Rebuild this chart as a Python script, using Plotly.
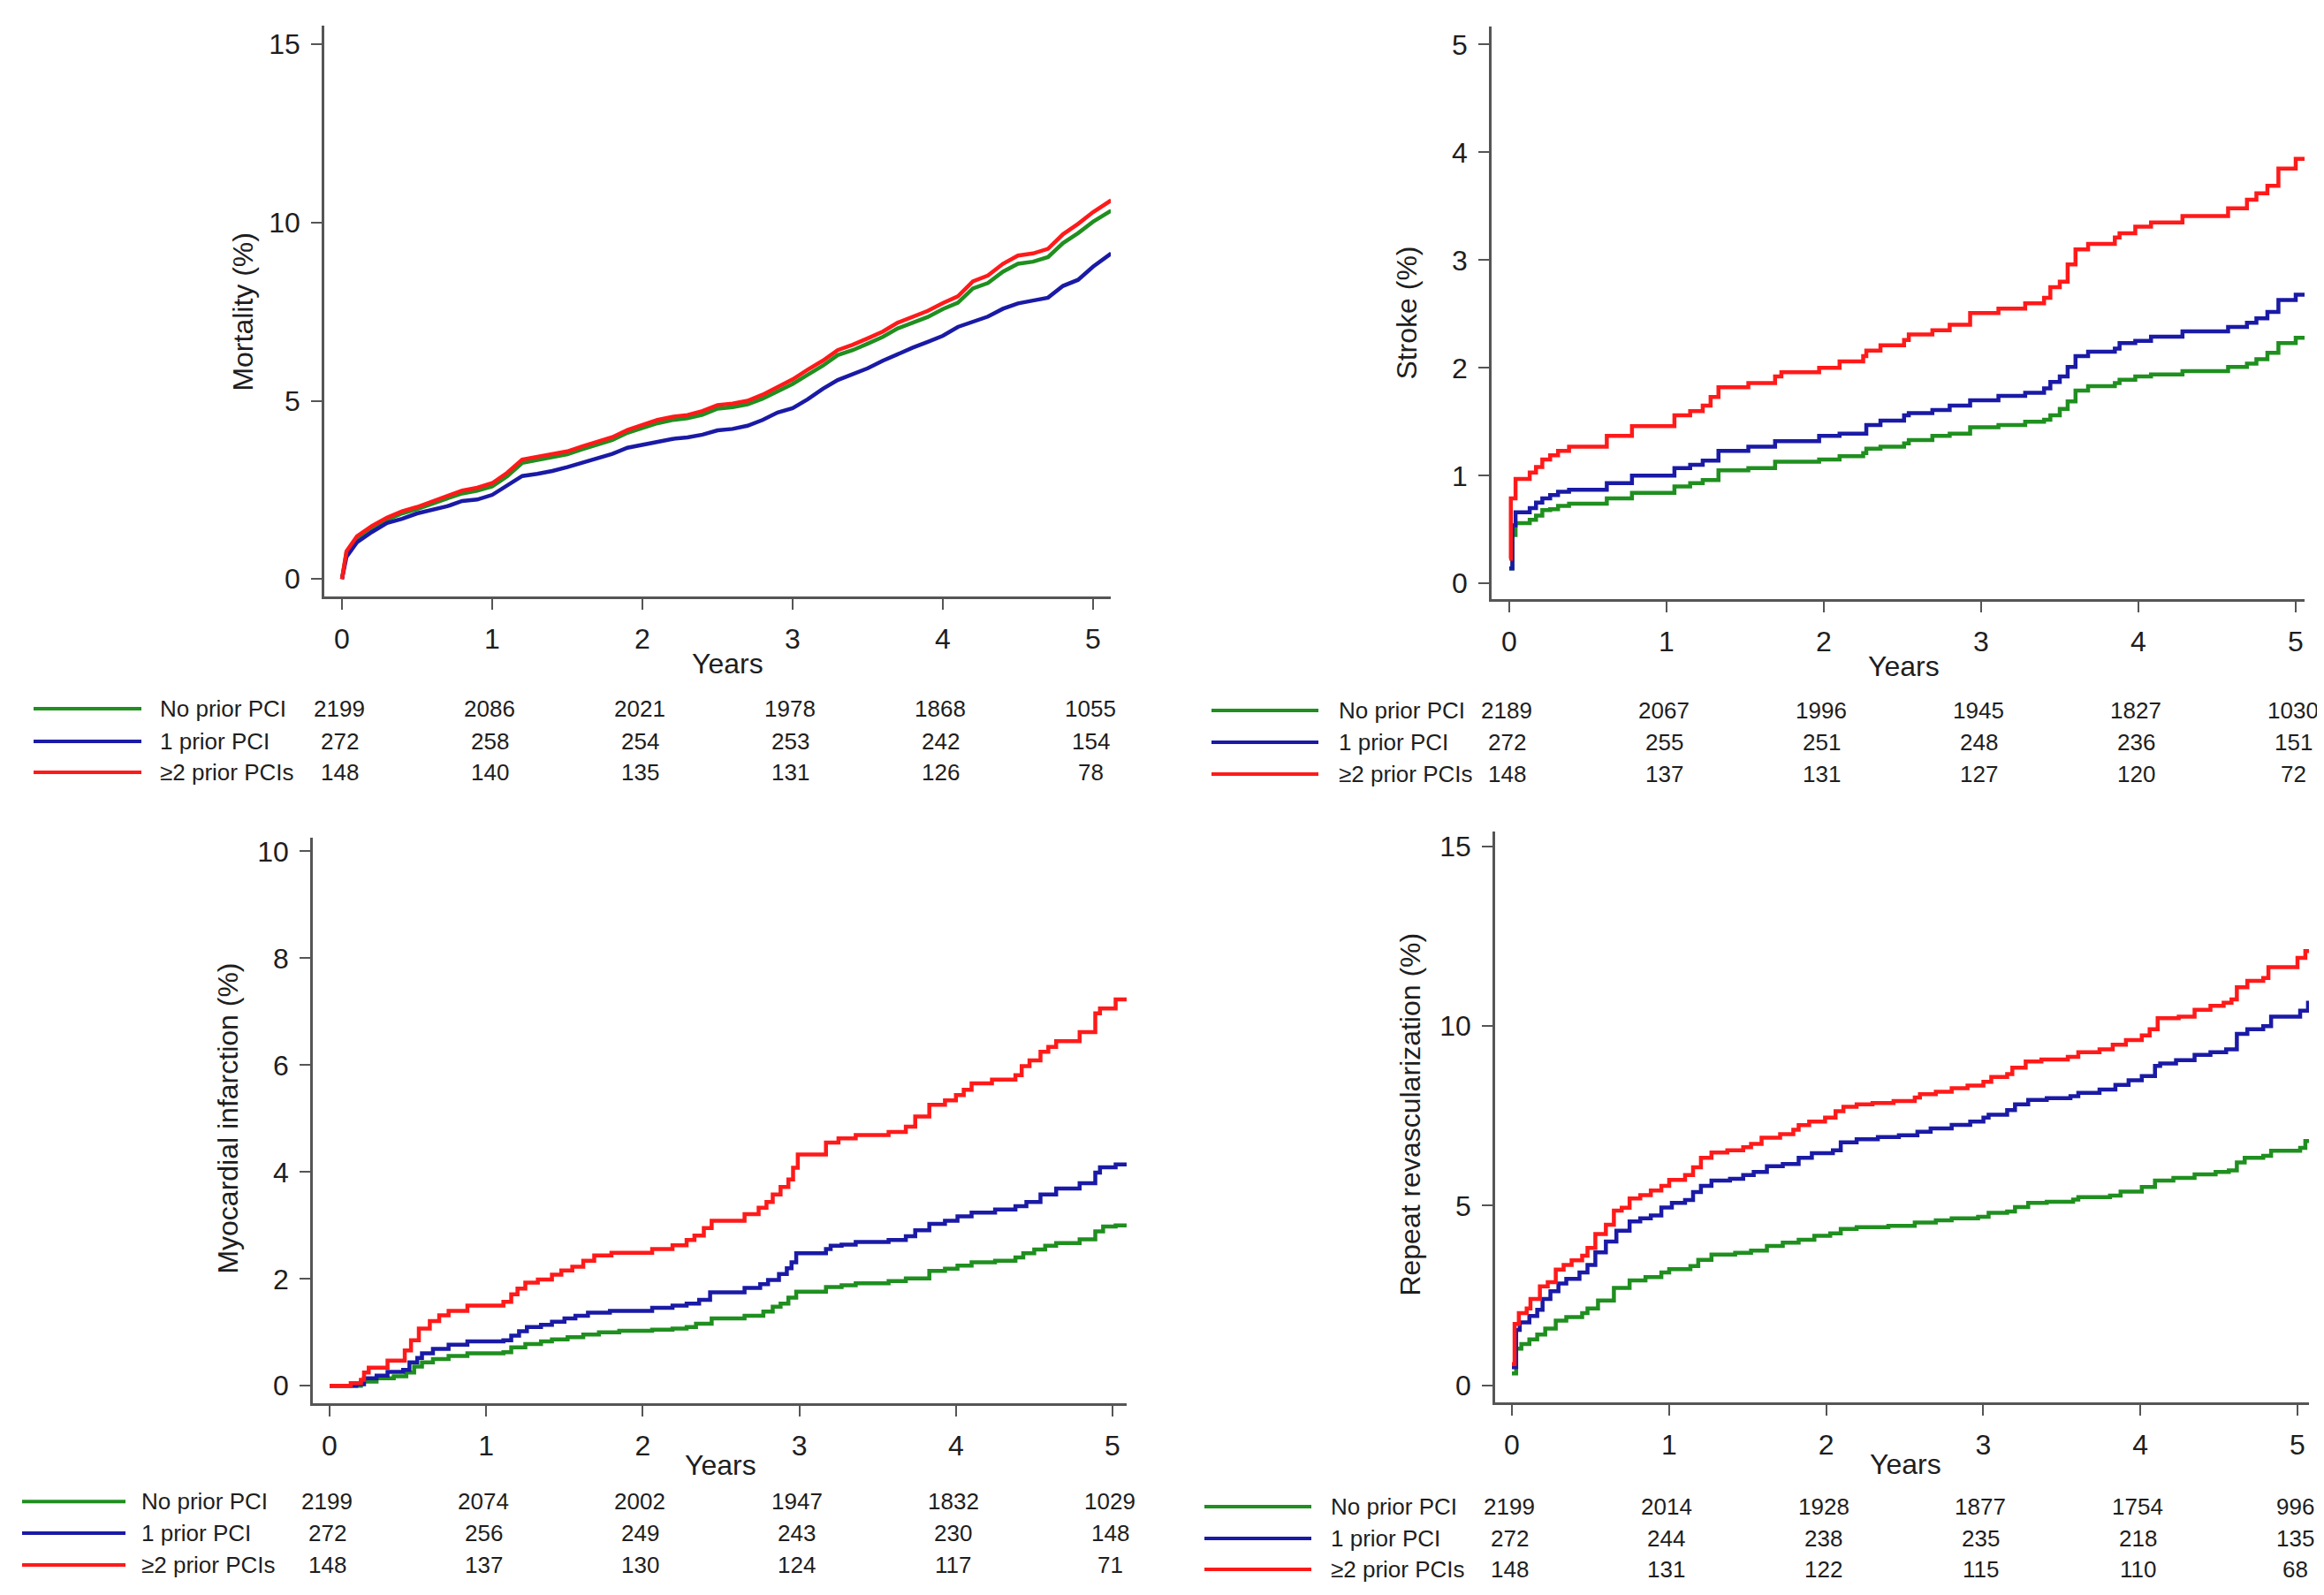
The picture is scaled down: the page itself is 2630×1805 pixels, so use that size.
import plotly.graph_objects as go

# ---------------- data ----------------
year_ticks = [0, 1, 2, 3, 4, 5]
group_labels = ["No prior PCI", "1 prior PCI", "\u22652 prior PCIs"]

# Mortality (%)
mort_t = [0, 0.03, 0.1, 0.2, 0.3, 0.4, 0.5, 0.6, 0.7, 0.8, 0.9, 1.0, 1.1, 1.2, 1.3, 1.4, 1.5,
          1.6, 1.7, 1.8, 1.9, 2.0, 2.1, 2.2, 2.3, 2.4, 2.5, 2.6, 2.7, 2.8, 2.9, 3.0, 3.1, 3.2,
          3.3, 3.4, 3.5, 3.6, 3.7, 3.8, 3.9, 4.0, 4.1, 4.2, 4.3, 4.4, 4.5, 4.6, 4.7, 4.8, 4.9,
          5.0, 5.12]
mort_none = [0, 0.74, 1.15, 1.43, 1.66, 1.84, 1.96, 2.12, 2.26, 2.40, 2.48, 2.60, 2.88, 3.26,
             3.34, 3.43, 3.50, 3.64, 3.76, 3.90, 4.10, 4.23, 4.37, 4.46, 4.51, 4.61, 4.78, 4.82,
             4.90, 5.06, 5.25, 5.47, 5.73, 5.98, 6.28, 6.42, 6.60, 6.79, 7.03, 7.19, 7.35, 7.57,
             7.75, 8.15, 8.30, 8.62, 8.84, 8.90, 9.03, 9.42, 9.70, 10.02, 10.33]
mort_one = [0, 0.62, 1.03, 1.32, 1.57, 1.69, 1.84, 1.94, 2.04, 2.19, 2.23, 2.36, 2.64, 2.89,
            2.95, 3.03, 3.14, 3.26, 3.39, 3.51, 3.68, 3.76, 3.84, 3.93, 3.97, 4.05, 4.17, 4.21,
            4.30, 4.46, 4.67, 4.79, 5.04, 5.33, 5.58, 5.74, 5.91, 6.12, 6.32, 6.49, 6.65, 6.82,
            7.07, 7.23, 7.36, 7.58, 7.73, 7.81, 7.89, 8.22, 8.39, 8.76, 9.13]
mort_two = [0, 0.78, 1.2, 1.49, 1.72, 1.9, 2.02, 2.19, 2.33, 2.48, 2.56, 2.69, 2.98, 3.35,
            3.43, 3.51, 3.58, 3.72, 3.84, 3.98, 4.18, 4.32, 4.46, 4.55, 4.6, 4.71, 4.88, 4.92,
            5.0, 5.17, 5.37, 5.6, 5.87, 6.12, 6.42, 6.57, 6.75, 6.94, 7.19, 7.36, 7.52, 7.74,
            7.93, 8.35, 8.51, 8.84, 9.07, 9.13, 9.26, 9.67, 9.96, 10.29, 10.62]

# Stroke (%)
stroke_t_none = [0, 0.02, 0.04, 0.13, 0.17, 0.21, 0.26, 0.31, 0.38, 0.62, 0.78, 1.05, 1.15, 1.23,
                 1.33, 1.52, 1.69, 1.97, 2.10, 2.25, 2.27, 2.36, 2.51, 2.54, 2.69, 2.80, 2.93,
                 3.11, 3.28, 3.40, 3.44, 3.50, 3.55, 3.60, 3.68, 3.85, 3.88, 3.98, 4.08, 4.28,
                 4.57, 4.69, 4.75, 4.82, 4.89, 5.00, 5.07]
stroke_none = [0.14, 0.45, 0.56, 0.59, 0.63, 0.68, 0.69, 0.72, 0.74, 0.79, 0.84, 0.90, 0.93, 0.96,
               1.05, 1.07, 1.13, 1.15, 1.18, 1.21, 1.25, 1.27, 1.30, 1.33, 1.37, 1.39, 1.45,
               1.47, 1.50, 1.52, 1.56, 1.62, 1.69, 1.79, 1.83, 1.86, 1.89, 1.92, 1.94, 1.97,
               2.01, 2.04, 2.08, 2.14, 2.23, 2.28, 2.28]
stroke_t_one = [0, 0.02, 0.04, 0.13, 0.17, 0.21, 0.26, 0.31, 0.38, 0.62, 0.78, 1.05, 1.15, 1.23,
                1.33, 1.52, 1.69, 1.97, 2.10, 2.27, 2.36, 2.51, 2.54, 2.69, 2.80, 2.93, 3.11,
                3.28, 3.40, 3.44, 3.50, 3.55, 3.60, 3.68, 3.85, 3.88, 3.98, 4.08, 4.28, 4.57,
                4.69, 4.75, 4.82, 4.89, 5.00, 5.07]
stroke_one = [0.14, 0.54, 0.66, 0.70, 0.75, 0.79, 0.82, 0.85, 0.87, 0.93, 1.00, 1.07, 1.10, 1.14,
              1.23, 1.27, 1.32, 1.37, 1.39, 1.47, 1.51, 1.56, 1.58, 1.61, 1.65, 1.70, 1.74,
              1.77, 1.81, 1.87, 1.92, 2.01, 2.11, 2.15, 2.18, 2.23, 2.25, 2.29, 2.34, 2.38,
              2.42, 2.46, 2.52, 2.63, 2.68, 2.68]
stroke_t_two = [0, 0.01, 0.04, 0.13, 0.17, 0.21, 0.26, 0.31, 0.38, 0.62, 0.78, 1.05, 1.15, 1.23,
                1.28, 1.33, 1.52, 1.69, 1.73, 1.97, 2.10, 2.25, 2.27, 2.36, 2.51, 2.54, 2.69,
                2.80, 2.93, 3.11, 3.28, 3.40, 3.44, 3.50, 3.55, 3.60, 3.68, 3.85, 3.88, 3.98,
                4.08, 4.28, 4.57, 4.69, 4.75, 4.82, 4.89, 5.00, 5.07]
stroke_two = [0.23, 0.79, 0.97, 1.03, 1.08, 1.15, 1.19, 1.23, 1.27, 1.37, 1.46, 1.56, 1.60, 1.65,
              1.73, 1.82, 1.86, 1.92, 1.96, 2.00, 2.06, 2.11, 2.16, 2.21, 2.26, 2.31, 2.35,
              2.40, 2.51, 2.55, 2.60, 2.65, 2.75, 2.80, 2.96, 3.10, 3.15, 3.21, 3.25, 3.31,
              3.35, 3.41, 3.48, 3.56, 3.62, 3.69, 3.85, 3.94, 3.94]

# Myocardial infarction (%)
mi_t_none = [0, 0.20, 0.30, 0.41, 0.49, 0.54, 0.59, 0.66, 0.76, 0.88, 1.11, 1.16, 1.25, 1.35,
             1.42, 1.52, 1.62, 1.72, 1.85, 2.06, 2.19, 2.28, 2.34, 2.44, 2.65, 2.77, 2.83, 2.88,
             2.93, 2.98, 3.17, 3.27, 3.36, 3.57, 3.68, 3.83, 3.93, 4.01, 4.10, 4.25, 4.38, 4.43,
             4.50, 4.57, 4.64, 4.79, 4.89, 4.94, 5.02, 5.09]
mi_none = [0, 0.08, 0.14, 0.18, 0.25, 0.36, 0.44, 0.50, 0.56, 0.61, 0.63, 0.72, 0.78, 0.83,
           0.87, 0.91, 0.96, 1.00, 1.03, 1.05, 1.07, 1.10, 1.16, 1.26, 1.31, 1.39, 1.48, 1.54,
           1.65, 1.76, 1.85, 1.88, 1.92, 1.96, 2.01, 2.15, 2.19, 2.25, 2.31, 2.34, 2.40, 2.48,
           2.55, 2.62, 2.67, 2.74, 2.89, 2.98, 3.00, 3.00]
mi_t_one = [0, 0.17, 0.22, 0.30, 0.37, 0.47, 0.51, 0.56, 0.59, 0.66, 0.76, 0.88, 1.11, 1.16,
            1.21, 1.26, 1.35, 1.42, 1.50, 1.57, 1.65, 1.79, 2.06, 2.19, 2.28, 2.36, 2.43, 2.65,
            2.75, 2.80, 2.87, 2.92, 2.95, 2.98, 3.17, 3.20, 3.27, 3.36, 3.57, 3.68, 3.74, 3.83,
            3.93, 4.01, 4.10, 4.25, 4.38, 4.45, 4.54, 4.64, 4.79, 4.89, 4.92, 5.02, 5.09]
mi_one = [0, 0.03, 0.14, 0.19, 0.26, 0.30, 0.44, 0.52, 0.61, 0.69, 0.77, 0.83, 0.85, 0.94,
          1.02, 1.10, 1.14, 1.20, 1.26, 1.31, 1.37, 1.40, 1.46, 1.50, 1.54, 1.61, 1.75, 1.83,
          1.90, 1.98, 2.09, 2.20, 2.31, 2.48, 2.56, 2.62, 2.64, 2.69, 2.73, 2.80, 2.91, 3.03,
          3.09, 3.17, 3.24, 3.30, 3.36, 3.44, 3.58, 3.69, 3.79, 3.99, 4.09, 4.14, 4.14]
mi_t_two = [0, 0.135, 0.20, 0.22, 0.25, 0.37, 0.48, 0.52, 0.57, 0.64, 0.70, 0.76, 0.88, 1.11,
            1.16, 1.20, 1.25, 1.33, 1.42, 1.48, 1.55, 1.62, 1.69, 1.80, 2.06, 2.19, 2.28, 2.33,
            2.39, 2.44, 2.65, 2.74, 2.79, 2.83, 2.88, 2.93, 2.96, 2.99, 3.17, 3.25, 3.36, 3.57,
            3.68, 3.74, 3.83, 3.93, 4.00, 4.05, 4.10, 4.23, 4.38, 4.42, 4.47, 4.54, 4.59, 4.64,
            4.79, 4.89, 4.92, 5.02, 5.09]
mi_two = [0, 0.05, 0.11, 0.25, 0.34, 0.47, 0.66, 0.85, 1.07, 1.21, 1.32, 1.40, 1.50, 1.57,
          1.71, 1.82, 1.93, 1.99, 2.08, 2.16, 2.23, 2.34, 2.44, 2.49, 2.56, 2.63, 2.73, 2.81,
          2.95, 3.09, 3.21, 3.33, 3.44, 3.58, 3.72, 3.86, 4.08, 4.33, 4.55, 4.63, 4.69, 4.75,
          4.85, 5.04, 5.26, 5.34, 5.44, 5.54, 5.66, 5.73, 5.81, 5.98, 6.09, 6.25, 6.34, 6.45,
          6.62, 6.97, 7.06, 7.23, 7.23]

# Repeat revascularization (%)
rev_t_none = [0, 0.027, 0.06, 0.111, 0.161, 0.212, 0.279, 0.346, 0.447, 0.481, 0.548, 0.649,
              0.749, 0.85, 0.951, 1.001, 1.136, 1.186, 1.27, 1.421, 1.522, 1.623, 1.724, 1.825,
              1.925, 2.026, 2.093, 2.194, 2.396, 2.564, 2.698, 2.799, 2.967, 3.034, 3.152,
              3.202, 3.286, 3.404, 3.572, 3.605, 3.807, 3.874, 4.009, 4.093, 4.21, 4.345,
              4.479, 4.563, 4.614, 4.664, 4.782, 4.832, 5.017, 5.05, 5.08]
rev_none = [0.33, 1.02, 1.15, 1.28, 1.41, 1.58, 1.80, 1.90, 2.01, 2.14, 2.36, 2.71, 2.92, 3.01,
            3.14, 3.23, 3.32, 3.49, 3.64, 3.69, 3.75, 3.88, 3.97, 4.05, 4.16, 4.23, 4.35, 4.40,
            4.44, 4.53, 4.59, 4.65, 4.69, 4.80, 4.84, 4.96, 5.08, 5.11, 5.17, 5.24, 5.28, 5.39,
            5.52, 5.70, 5.77, 5.87, 5.94, 5.98, 6.20, 6.33, 6.39, 6.53, 6.61, 6.80, 6.80]
rev_t_one = [0, 0.027, 0.05, 0.111, 0.161, 0.195, 0.245, 0.296, 0.346, 0.43, 0.481, 0.531,
             0.598, 0.665, 0.749, 0.817, 0.884, 0.951, 1.018, 1.102, 1.153, 1.203, 1.27, 1.388,
             1.472, 1.539, 1.623, 1.724, 1.825, 1.909, 2.043, 2.093, 2.194, 2.329, 2.463,
             2.581, 2.665, 2.799, 2.917, 3.001, 3.034, 3.152, 3.202, 3.286, 3.404, 3.555,
             3.605, 3.74, 3.841, 3.925, 4.009, 4.093, 4.126, 4.227, 4.345, 4.446, 4.546,
             4.614, 4.681, 4.782, 4.832, 5.017, 5.067, 5.08]
rev_one = [0.5, 1.54, 1.75, 1.93, 2.10, 2.40, 2.62, 2.83, 2.96, 3.14, 3.35, 3.70, 4.00, 4.30,
           4.56, 4.65, 4.73, 4.95, 5.08, 5.16, 5.38, 5.55, 5.70, 5.75, 5.85, 5.94, 6.10, 6.16,
           6.33, 6.46, 6.54, 6.76, 6.85, 6.91, 6.96, 7.06, 7.15, 7.25, 7.34, 7.45, 7.53, 7.66,
           7.82, 7.94, 7.99, 8.05, 8.14, 8.23, 8.36, 8.49, 8.61, 8.89, 8.96, 9.05, 9.20, 9.27,
           9.35, 9.78, 9.91, 10.00, 10.26, 10.43, 10.65, 10.65]
rev_t_two = [0, 0.017, 0.044, 0.094, 0.118, 0.178, 0.228, 0.279, 0.329, 0.38, 0.447, 0.481,
             0.531, 0.598, 0.649, 0.699, 0.749, 0.817, 0.884, 0.951, 1.001, 1.102, 1.153,
             1.203, 1.27, 1.371, 1.472, 1.522, 1.589, 1.707, 1.791, 1.825, 1.892, 1.993, 2.06,
             2.11, 2.194, 2.295, 2.429, 2.564, 2.597, 2.698, 2.799, 2.9, 3.001, 3.051, 3.152,
             3.185, 3.27, 3.37, 3.538, 3.605, 3.74, 3.824, 3.908, 4.009, 4.059, 4.11, 4.244,
             4.345, 4.446, 4.53, 4.58, 4.614, 4.681, 4.782, 4.815, 5.0, 5.05, 5.08]
rev_two = [0.59, 1.71, 2.01, 2.14, 2.40, 2.75, 2.87, 3.22, 3.35, 3.48, 3.61, 3.82, 4.21, 4.47,
           4.86, 4.94, 5.20, 5.29, 5.42, 5.55, 5.72, 5.85, 6.07, 6.33, 6.48, 6.54, 6.63, 6.72,
           6.89, 6.99, 7.11, 7.24, 7.34, 7.45, 7.63, 7.75, 7.82, 7.86, 7.91, 8.01, 8.10, 8.17,
           8.27, 8.34, 8.45, 8.58, 8.66, 8.84, 9.01, 9.07, 9.14, 9.27, 9.35, 9.48, 9.61, 9.74,
           9.91, 10.22, 10.26, 10.45, 10.56, 10.65, 10.74, 11.08, 11.26, 11.34, 11.64, 11.90,
           12.09, 12.09]

# Numbers at risk
risk_mort_none = [2199, 2086, 2021, 1978, 1868, 1055]
risk_mort_one = [272, 258, 254, 253, 242, 154]
risk_mort_two = [148, 140, 135, 131, 126, 78]
risk_stroke_none = [2189, 2067, 1996, 1945, 1827, 1030]
risk_stroke_one = [272, 255, 251, 248, 236, 151]
risk_stroke_two = [148, 137, 131, 127, 120, 72]
risk_mi_none = [2199, 2074, 2002, 1947, 1832, 1029]
risk_mi_one = [272, 256, 249, 243, 230, 148]
risk_mi_two = [148, 137, 130, 124, 117, 71]
risk_rev_none = [2199, 2014, 1928, 1877, 1754, 996]
risk_rev_one = [272, 244, 238, 235, 218, 135]
risk_rev_two = [148, 131, 122, 115, 110, 68]

# ---------------- styling / layout ----------------
W, H = 2630, 1805
COLORS = ["#1f8f1f", "#1a1aa6", "#ff1a1a"]
FONT = "Liberation Sans, Arial, sans-serif"
TXT = "#1e1e1e"
AXC = "#555555"


def px(x):
    return x / W


def py(y):
    return 1 - y / H


panels = [
    dict(title="Mortality (%)", yticks=[0, 5, 10, 15], shape="linear",
         series=[(mort_t, mort_none), (mort_t, mort_one), (mort_t, mort_two)],
         risk=[risk_mort_none, risk_mort_one, risk_mort_two],
         dom_x=(359, 1249), dom_y=(19, 666), x0=379, ppy=170.0, y0=646, ppu=40.4,
         years=(815, 742), ytitle=(267, 343),
         line_x=(30, 152), label_x=171, rows=(793, 830, 865)),
    dict(title="Stroke (%)", yticks=[0, 1, 2, 3, 4, 5], shape="hv",
         series=[(stroke_t_none, stroke_none), (stroke_t_one, stroke_one),
                 (stroke_t_two, stroke_two)],
         risk=[risk_stroke_none, risk_stroke_one, risk_stroke_two],
         dom_x=(1680, 2600), dom_y=(20, 669), x0=1700, ppy=178.0, y0=651, ppu=122.1,
         years=(2146, 745), ytitle=(1584, 345),
         line_x=(1363, 1484), label_x=1505, rows=(795, 831, 867)),
    dict(title="Myocardial infarction (%)", yticks=[0, 2, 4, 6, 8, 10], shape="hv",
         series=[(mi_t_none, mi_none), (mi_t_one, mi_one), (mi_t_two, mi_two)],
         risk=[risk_mi_none, risk_mi_one, risk_mi_two],
         dom_x=(346, 1267), dom_y=(939, 1580), x0=365, ppy=177.2, y0=1560, ppu=60.55,
         years=(808, 1650), ytitle=(250, 1257),
         line_x=(17, 134), label_x=150, rows=(1691, 1727, 1763)),
    dict(title="Repeat revascularization (%)", yticks=[0, 5, 10, 15], shape="hv",
         series=[(rev_t_none, rev_none), (rev_t_one, rev_one), (rev_t_two, rev_two)],
         risk=[risk_rev_none, risk_rev_one, risk_rev_two],
         dom_x=(1684, 2605), dom_y=(932, 1579), x0=1703, ppy=177.8, y0=1559.4, ppu=40.7,
         years=(2148, 1649), ytitle=(1588, 1253),
         line_x=(1355, 1476), label_x=1496, rows=(1697, 1733, 1768)),
]

fig = go.Figure()
layout = dict(width=W, height=H, margin=dict(l=0, r=0, t=0, b=0),
              paper_bgcolor="white", plot_bgcolor="white", showlegend=False,
              font=dict(family=FONT, color=TXT))
annotations = []
shapes = []

for i, p in enumerate(panels):
    k = "" if i == 0 else str(i + 1)
    xa, ya = "x" + k, "y" + k
    for (t, v), c, name in zip(p["series"], COLORS, group_labels):
        fig.add_trace(go.Scatter(x=t, y=v, mode="lines", name=name,
                                 line=dict(color=c, width=4.5, shape=p["shape"]),
                                 xaxis=xa, yaxis=ya, hoverinfo="skip"))
    xl, xr = p["dom_x"]
    yt, yb = p["dom_y"]
    xrange = [(xl - p["x0"]) / p["ppy"], (xr - p["x0"]) / p["ppy"]]
    yrange = [(p["y0"] - yb) / p["ppu"], (p["y0"] - yt) / p["ppu"]]
    common = dict(showline=True, linecolor=AXC, linewidth=2.5, ticks="outside",
                  ticklen=12, tickwidth=2, tickcolor=AXC, showgrid=False, zeroline=False,
                  tickfont=dict(family=FONT, size=32, color=TXT))
    layout["xaxis" + k] = dict(domain=[px(xl), px(xr)], range=xrange, anchor=ya,
                               tickvals=year_ticks, ticklabelstandoff=6, **common)
    layout["yaxis" + k] = dict(domain=[py(yb), py(yt)], range=yrange, anchor=xa,
                               tickvals=p["yticks"], ticklabelstandoff=6, **common)
    # axis titles
    annotations.append(dict(text="Years", xref="paper", yref="paper",
                            x=px(p["years"][0]), y=py(p["years"][1]),
                            xanchor="center", yanchor="middle", showarrow=False,
                            font=dict(size=32, color=TXT, family=FONT)))
    annotations.append(dict(text=p["title"], xref="paper", yref="paper",
                            x=px(p["ytitle"][0]), y=py(p["ytitle"][1]), textangle=-90,
                            xanchor="center", yanchor="middle", showarrow=False,
                            font=dict(size=32, color=TXT, family=FONT)))
    # risk table
    for r, (row_y, label, counts, c) in enumerate(zip(p["rows"], group_labels, p["risk"], COLORS)):
        shapes.append(dict(type="line", xref="paper", yref="paper",
                           x0=px(p["line_x"][0]), x1=px(p["line_x"][1]),
                           y0=py(row_y), y1=py(row_y), line=dict(color=c, width=4)))
        annotations.append(dict(text=label, xref="paper", yref="paper",
                                x=px(p["label_x"]), y=py(row_y), xanchor="left",
                                yanchor="middle", showarrow=False,
                                font=dict(size=26, color=TXT, family=FONT)))
        for yr, n in zip(year_ticks, counts):
            annotations.append(dict(text=str(n), xref=xa, yref="paper", x=yr, y=py(row_y),
                                    xanchor="center", yanchor="middle", showarrow=False,
                                    xshift=-3,
                                    font=dict(size=26, color=TXT, family=FONT)))

layout["annotations"] = annotations
layout["shapes"] = shapes
fig.update_layout(**layout)
fig.write_html("out.html")
